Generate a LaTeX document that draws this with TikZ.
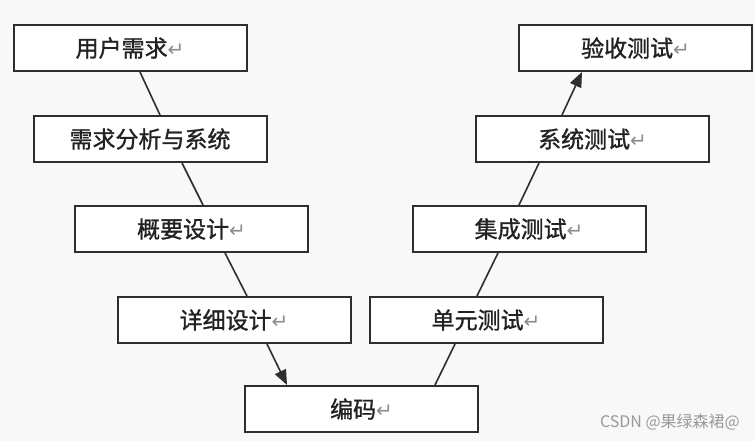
\documentclass[tikz,border=0pt]{standalone}
\usepackage{fontspec}
\usetikzlibrary{arrows.meta}
\newfontfamily\cjk[FakeBold=1.2]{Noto Sans CJK SC}
\newfontfamily\cjkwm{Noto Sans CJK SC}
\newfontfamily\symf{DejaVu Sans}
\definecolor{bgc}{HTML}{F8F8F8}
\definecolor{edgec}{HTML}{2E2E2E}
\definecolor{txtc}{HTML}{222222}
\newcommand{\ret}{{\symf\fontsize{20}{20}\selectfont\color{gray!90}\raisebox{0pt}{↵}}}
\tikzset{
  stagebox/.style={draw=edgec, line width=2pt, fill=white, minimum width=233pt, minimum height=46pt, inner sep=0pt, font=\cjk\fontsize{23}{23}\selectfont, text=txtc},
  link/.style={draw=edgec, line width=1.6pt},
  arrowlink/.style={link, -{Triangle[length=15pt,width=12pt]}}
}
\begin{document}
\begin{tikzpicture}[x=1pt,y=-1pt]
\fill[bgc] (0,0) rectangle (755,441);
\useasboundingbox (0,0) rectangle (755,441);
\node[stagebox] (yh) at (130,48) {用户需求\ret};
\node[stagebox] (xq) at (150,139) {需求分析与系统};
\node[stagebox] (gy) at (191.5,229) {概要设计\ret};
\node[stagebox] (xx) at (234,320) {详细设计\ret};
\node[stagebox] (bm) at (361.5,409) {编码\ret};
\node[stagebox] (dy) at (486,320) {单元测试\ret};
\node[stagebox] (jc) at (529,229) {集成测试\ret};
\node[stagebox] (xt) at (592.5,139) {系统测试\ret};
\node[stagebox] (ys) at (635.5,48) {验收测试\ret};
\draw[link] ([xshift=10pt]yh.south) -- ([xshift=10pt]xq.north);
\draw[link] ([xshift=32pt]xq.south) -- ([xshift=11.5pt]gy.north);
\draw[link] ([xshift=33.5pt]gy.south) -- ([xshift=13pt]xx.north);
\draw[arrowlink] ([xshift=33pt]xx.south) -- ([xshift=-74.5pt]bm.north);
\draw[link] ([xshift=73.5pt]bm.north) -- ([xshift=-31pt]dy.south);
\draw[link] ([xshift=-9pt]dy.north) -- ([xshift=-31pt]jc.south);
\draw[link] ([xshift=-10pt]jc.north) -- ([xshift=-53.5pt]xt.south);
\draw[arrowlink] ([xshift=-30.5pt]xt.north) -- ([xshift=-53.5pt]ys.south);
\node[anchor=east, text=gray!80, font=\cjkwm\fontsize{16}{16}\selectfont, inner sep=0pt] (wm) at (740,422) {CSDN @果绿森裙@};
\end{tikzpicture}
\end{document}
